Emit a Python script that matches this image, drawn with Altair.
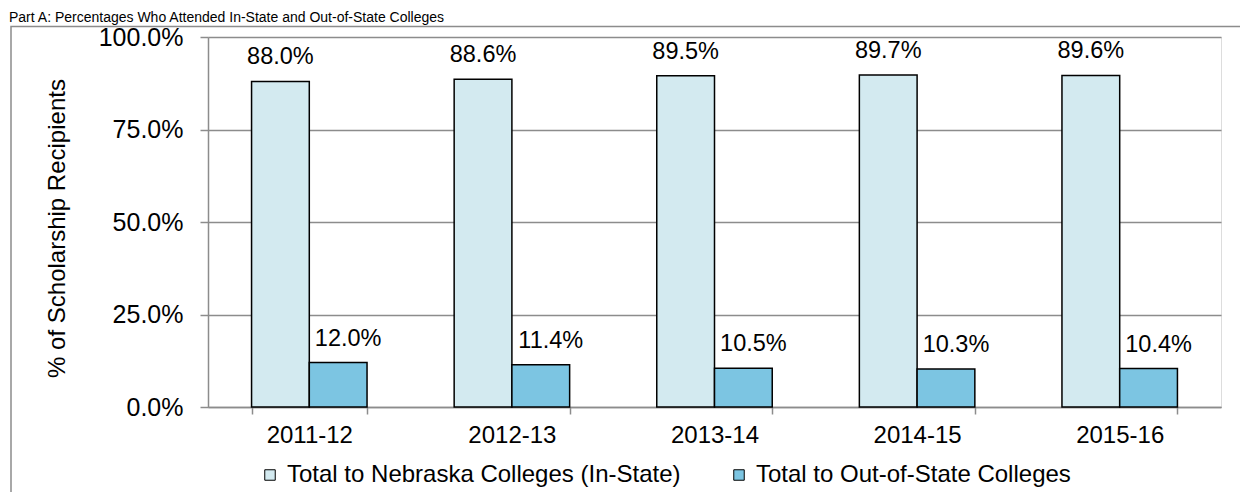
import altair as alt
import pandas as pd

years = ["2011-12", "2012-13", "2013-14", "2014-15", "2015-16"]
series = ["Total to Nebraska Colleges (In-State)", "Total to Out-of-State Colleges"]
in_state = [0.880, 0.886, 0.895, 0.897, 0.896]
out_state = [0.120, 0.114, 0.105, 0.103, 0.104]
y_ticks = [0.0, 0.25, 0.5, 0.75, 1.0]
colors = ["#D3EAF0", "#7CC5E2"]
title_text = "Part A:  Percentages Who Attended In-State and Out-of-State Colleges"
y_title = "% of Scholarship Recipients"

rows = []
for i, yr in enumerate(years):
    rows.append({"year": yr, "series": series[0], "value": in_state[i]})
    rows.append({"year": yr, "series": series[1], "value": out_state[i]})
df = pd.DataFrame(rows)

FONT = "Liberation Sans"
GRAY = "#8C8C8C"

x_enc = alt.X(
    "year:N",
    sort=years,
    scale=alt.Scale(paddingInner=0.43, paddingOuter=0.215),
    axis=alt.Axis(
        title=None,
        labelAngle=0,
        labelFont=FONT,
        labelFontSize=24,
        labelColor="#000000",
        labelPadding=9,
        tickBand="extent",
        tickSize=7,
        tickColor=GRAY,
        tickWidth=1.5,
        domainColor=GRAY,
        domainWidth=1.5,
        grid=False,
    ),
)
xoff_enc = alt.XOffset(
    "series:N", sort=series, scale=alt.Scale(domain=series, paddingInner=0, paddingOuter=0)
)
y_enc = alt.Y(
    "value:Q",
    scale=alt.Scale(domain=[0, 1], nice=False),
    axis=alt.Axis(
        values=y_ticks,
        format=".1%",
        title=y_title,
        titleFont=FONT,
        titleFontSize=24,
        titleFontWeight="normal",
        titleColor="#000000",
        titleAngle=-90,
        titleX=-151,
        titleY=191,
        titleAlign="center",
        titleBaseline="middle",
        labelFont=FONT,
        labelFontSize=25,
        labelColor="#000000",
        labelPadding=17,
        tickSize=8,
        tickColor=GRAY,
        tickWidth=1.5,
        domainColor=GRAY,
        domainWidth=1.5,
        gridColor=GRAY,
        gridWidth=1.5,
    ),
)

base = alt.Chart(df)

bars = base.mark_bar(stroke="#000000", strokeWidth=1.5).encode(
    x=x_enc,
    xOffset=xoff_enc,
    y=y_enc,
    color=alt.Color(
        "series:N",
        sort=series,
        scale=alt.Scale(domain=series, range=colors),
        legend=alt.Legend(
            title=None,
            orient="none",
            legendX=50,
            legendY=426,
            direction="horizontal",
            symbolType="square",
            symbolSize=110,
            symbolStrokeColor="#000000",
            symbolStrokeWidth=1,
            labelFont=FONT,
            labelFontSize=24,
            labelColor="#000000",
            labelLimit=600,
            labelOffset=5,
            columnPadding=46,
        ),
    ),
)

labels_in = base.transform_filter(alt.datum.series == series[0]).mark_text(
    font=FONT, fontSize=23.5, color="#000000", baseline="alphabetic", dy=-17
).encode(
    x=alt.X("year:N", sort=years),
    xOffset=xoff_enc,
    y=alt.Y("value:Q"),
    text=alt.Text("value:Q", format=".1%"),
)

labels_out = base.transform_filter(alt.datum.series == series[1]).mark_text(
    font=FONT, fontSize=23.5, color="#000000", baseline="alphabetic", dy=-17, dx=10
).encode(
    x=alt.X("year:N", sort=years),
    xOffset=xoff_enc,
    y=alt.Y("value:Q"),
    text=alt.Text("value:Q", format=".1%"),
)

title = alt.Chart(pd.DataFrame({"t": [title_text]})).mark_text(
    font=FONT, fontSize=14, color="#000000", align="left", baseline="alphabetic"
).encode(text="t:N", x=alt.value(-199), y=alt.value(-15))

frame = alt.Chart(pd.DataFrame({"a": [0]})).mark_rect(
    filled=False, stroke=GRAY, strokeWidth=1.5
).encode(x=alt.value(-197), x2=alt.value(1045), y=alt.value(-10.5), y2=alt.value(520))

chart = (
    alt.layer(frame, bars, labels_in, labels_out, title)
    .properties(
        width=1013,
        height=370,
        autosize=alt.AutoSizeParams(type="none"),
        padding={"left": 200, "top": 29, "right": 19, "bottom": 85},
    )
    .configure_view(strokeWidth=0)
    .configure(font=FONT)
)

chart.save("out.html", embed_options={"renderer": "svg", "actions": False})
